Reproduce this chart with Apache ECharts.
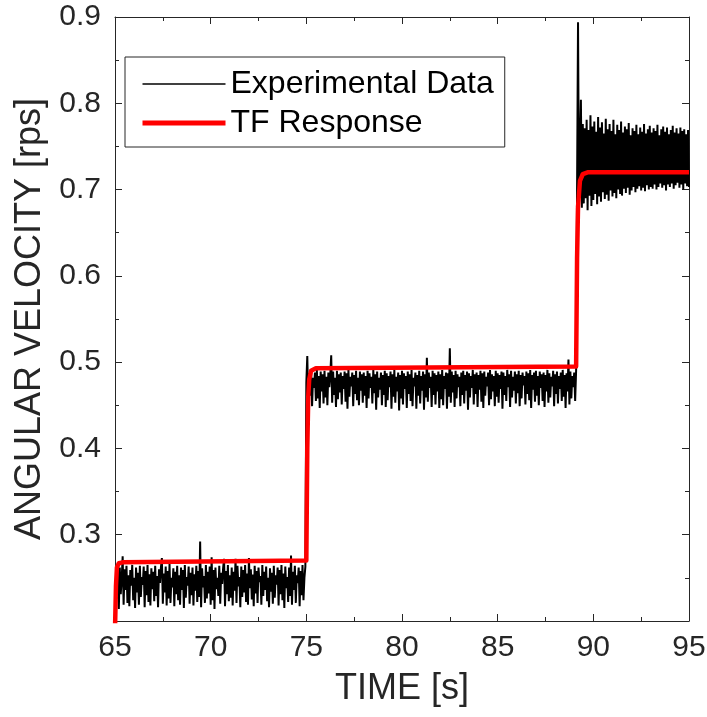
<!DOCTYPE html>
<html>
<head>
<meta charset="utf-8">
<script src="https://cdn.jsdelivr.net/npm/echarts@6/dist/echarts.min.js"></script>
<style>
  html, body { margin: 0; padding: 0; background: #fff; }
  #main { width: 707px; height: 717px; }
</style>
</head>
<body>
<div id="main"></div>
<script>
// experimental samples, in thousandths of rps, one every 0.05 s
const expStep = 0.05
const seg1Start = 65.10
const seg1 = [
  226,258,214,262,231,249,275,219,260,236,264,221,253,217,259,241,265,224,250,215,
  262,233,256,219,264,228,251,242,263,216,258,230,265,222,254,218,261,237,257,223,
  264,229,252,216,260,244,262,273,220,255,233,263,218,258,226,266,221,250,239,261,
  217,257,231,264,224,253,219,262,236,259,215,265,227,251,241,263,220,256,230,262,
  218,254,235,264,222,258,228,292,216,261,239,252,221,265,226,257,232,263,219,274,
  224,259,214,262,237,250,229,264,220,256,243,261,272,217,258,231,265,223,253,227,
  262,218,257,235,272,221,264,240,251,216,263,228,259,233,265,222,255,219,273,238,
  260,225,254,217,264,232,258,221,262,245,252,219,265,229,257,236,263,223,250,216,
  261,234,256,220,264,227,253,242,262,218,259,231,265,224,255,215,263,238,251,222,
  262,229,276,219,257,236,264,221,253,244,262,217,258,230,265,224,250,263
]
const seg2Start = 75.00
const seg2 = [
  476,507,452,487,461,489,449,482,470,488,455,491,458,484,447,489,466,486,452,490,
  459,483,450,488,471,485,508,453,489,462,482,448,490,457,486,465,488,451,484,469,
  489,454,487,446,491,460,483,472,488,449,485,463,490,456,482,450,489,467,486,453,
  488,461,484,447,490,458,487,470,483,452,491,464,486,445,489,459,482,468,488,450,
  485,462,490,448,487,456,484,471,489,446,486,460,491,453,483,466,488,444,485,458,
  490,451,487,469,484,447,489,463,486,455,491,449,482,472,488,446,485,461,490,452,
  484,467,489,445,486,459,505,454,488,470,483,448,490,462,487,451,485,466,489,447,
  486,457,491,450,484,469,488,446,487,460,516,453,489,465,485,448,490,458,486,471,
  483,449,488,462,490,452,485,467,489,445,487,459,484,470,491,451,486,463,488,448,
  485,468,490,454,487,447,489,461,483,472,488,450,491,457,486,466,484,449,490,460,
  487,453,485,469,489,446,488,462,484,455,491,471,486,448,490,459,483,467,489,452,
  486,464,490,449,485,458,488,473,484,451,489,463,487,456,491,447,485,468,488,454,
  490,461,484,450,489,470,486,455,488,448,485,466,491,453,487,459,483,472,490,449,
  486,463,489,452,484,469,488,455,491,460,485,447,487,466,503,451,489,458,484,471,
  488,455,490
]
const seg3Start = 89.15
const seg3 = [
  700,894,688,742,804,679,776,684,771,690,781,676,769,693,786,681,773,688,779,695,
  767,683,784,692,772,686,778,697,765,689,782,694,770,687,776,699,768,692,781,696,
  764,690,775,700,769,695,779,693,766,701,773,696,770,702,777,694,763,699,771,703,
  768,697,775,701,764,704,772,699,767,702,776,698,765,705,770,700,774,703,766,701,
  771,706,768,700,775,703,763,707,770,702,773,705,767,699,772,706,764,703,769,707,
  774,701,766,705,771,708,765,702,772,706,768,700,770,707,764,704,769,703
]

// TF response
const tfTime = [65.0, 65.05, 65.1, 65.2, 65.4, 75.0, 75.05, 75.1, 75.15, 75.25, 75.5, 89.1, 89.15, 89.2, 89.3, 89.45, 89.7, 95.0]
const tfVal = [0.19, 0.24, 0.262, 0.267, 0.268, 0.27, 0.40, 0.46, 0.48, 0.49, 0.493, 0.495, 0.62, 0.68, 0.71, 0.718, 0.72, 0.72]

const xTicks = [65, 70, 75, 80, 85, 90, 95]
const yTicks = [0.3, 0.4, 0.5, 0.6, 0.7, 0.8, 0.9]

const expData = []
const addSeg = (start, vals) => {
  vals.forEach((v, i) => expData.push([+(start + i * expStep).toFixed(2), v / 1000]))
}
addSeg(seg1Start, seg1)
addSeg(seg2Start, seg2)
addSeg(seg3Start, seg3)
const tfData = tfTime.map((t, i) => [t, tfVal[i]])

const axisColor = '#262626'
const font = 'Liberation Sans, Arial, Helvetica, sans-serif'

const tickCommon = {
  axisLine: { show: true, lineStyle: { color: axisColor, width: 1 } },
  axisTick: { show: true, inside: true, length: 7, lineStyle: { color: axisColor } },
  minorTick: { show: true, splitNumber: 2, length: 4, lineStyle: { color: axisColor } },
  splitLine: { show: false }
}

const chart = echarts.init(document.getElementById('main'))
chart.setOption({
  animation: false,
  grid: { left: 115, right: 18, top: 17, bottom: 96, outerBoundsMode: 'none' },
  legend: {
    orient: 'vertical',
    left: 125,
    top: 57,
    padding: [11, 11, 8, 15],
    itemGap: 7,
    itemWidth: 83,
    itemHeight: 14,
    borderColor: axisColor,
    borderWidth: 1,
    backgroundColor: '#fff',
    itemStyle: { opacity: 0, borderWidth: 0 },
    textStyle: { fontSize: 32, fontFamily: font, color: '#000' },
    data: [
      { name: 'Experimental Data', lineStyle: { width: 1.6 } },
      { name: 'TF Response', lineStyle: { width: 5 } }
    ]
  },
  xAxis: [
    {
      type: 'value', min: 65, max: 95, interval: 5, position: 'bottom',
      ...tickCommon,
      axisLabel: { fontSize: 30, fontFamily: font, color: axisColor, margin: 12,
        formatter: v => xTicks.includes(v) ? String(v) : '' },
      name: 'TIME [s]', nameLocation: 'middle', nameGap: 50,
      nameTextStyle: { fontSize: 36, fontFamily: font, color: axisColor }
    },
    {
      type: 'value', min: 65, max: 95, interval: 5, position: 'top',
      ...tickCommon, axisLabel: { show: false }
    }
  ],
  yAxis: [
    {
      type: 'value', min: 0.2, max: 0.9, interval: 0.1, position: 'left',
      ...tickCommon,
      axisLabel: { fontSize: 30, fontFamily: font, color: axisColor, margin: 14,
        formatter: v => {
          const s = v.toFixed(1)
          return yTicks.includes(+s) ? s : ''
        } },
      name: 'ANGULAR VELOCITY [rps]', nameLocation: 'middle', nameGap: 62,
      nameTextStyle: { fontSize: 36, fontFamily: font, color: axisColor }
    },
    {
      type: 'value', min: 0.2, max: 0.9, interval: 0.1, position: 'right',
      ...tickCommon, axisLabel: { show: false }
    }
  ],
  series: [
    {
      name: 'Experimental Data',
      type: 'line',
      data: expData,
      symbol: 'none',
      lineStyle: { color: '#000', width: 2 },
      itemStyle: { color: '#000' },
      clip: true
    },
    {
      name: 'TF Response',
      type: 'line',
      data: tfData,
      symbol: 'none',
      lineStyle: { color: '#ff0000', width: 4.5, join: 'round' },
      itemStyle: { color: '#ff0000' },
      clip: true
    }
  ]
})
</script>
</body>
</html>
